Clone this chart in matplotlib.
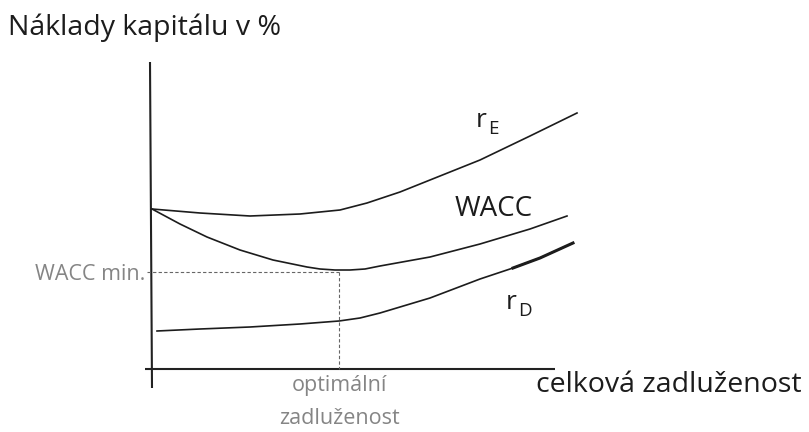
import matplotlib
matplotlib.use('Agg')
import matplotlib.pyplot as plt

# Curves (x = leverage, y = cost; pixel scale, y grows downwards)
re_x = [152, 200, 250, 300, 340, 367, 400, 430, 480, 530, 577]
re_y = [209, 213, 216, 214, 210, 203, 192, 180, 160, 136, 113]

wacc_x = [152, 180, 207, 240, 273, 307, 320, 335, 350, 365, 380, 430, 480, 530, 567]
wacc_y = [209, 224, 237, 250, 260, 267, 269, 270, 270, 269, 266, 257, 244, 229, 216]

rd_x = [157, 200, 250, 300, 339, 360, 380, 430, 480, 513, 540, 573]
rd_y = [331, 329, 327, 324, 321, 318, 313, 298, 279, 268, 258, 243]

wacc_min = 272
opt_x = 339

fig = plt.figure(figsize=(8.09, 4.32), dpi=100)
ax = fig.add_axes([0, 0, 1, 1])
ax.set_xlim(0, 809)
ax.set_ylim(432, 0)
ax.axis('off')

plt.rcParams['font.family'] = ['Open Sans', 'DejaVu Sans']

gray = '#858585'
ink = '#1c1c1c'

# axes
ax.plot([150, 152], [62, 388], color='#222222', lw=1.5, solid_capstyle='butt')
ax.plot([145, 555], [369, 369], color='#222222', lw=1.5, solid_capstyle='butt')

# curves
ax.plot(re_x, re_y, color=ink, lw=1.2)
ax.plot(wacc_x, wacc_y, color=ink, lw=1.2)
ax.plot(rd_x, rd_y, color=ink, lw=1.2)
ax.plot(rd_x[-3:], rd_y[-3:], color=ink, lw=2.2)

# guides
ax.plot([147, opt_x], [wacc_min, wacc_min], color='#666666', lw=0.8, ls=(0, (3, 2)))
ax.plot([opt_x, opt_x], [wacc_min, 369], color='#666666', lw=0.8, ls=(0, (3, 2)))

# texts
ax.text(8, 28, 'Náklady kapitálu v %', fontsize=20.5, color=ink, va='center')
ax.text(145, 274, 'WACC min.', fontsize=15.5, color=gray, ha='right', va='center')
ax.text(339, 386, 'optimální', fontsize=15.5, color=gray, ha='center', va='center')
ax.text(339, 419, 'zadluženost', fontsize=15.5, color=gray, ha='center', va='center')
ax.text(536, 385, 'celková zadluženost', fontsize=20.5, color=ink, va='center')
ax.text(455, 209, 'WACC', fontsize=20, color=ink, va='center')
# r with subscript, drawn as two texts
ax.text(476, 127, 'r', fontsize=19, color=ink, va='baseline')
ax.text(488, 134, 'E', fontsize=13.5, color=ink, va='baseline')
ax.text(506, 309, 'r', fontsize=19, color=ink, va='baseline')
ax.text(518, 316, 'D', fontsize=13.5, color=ink, va='baseline')

plt.savefig('out.png', dpi=100)
